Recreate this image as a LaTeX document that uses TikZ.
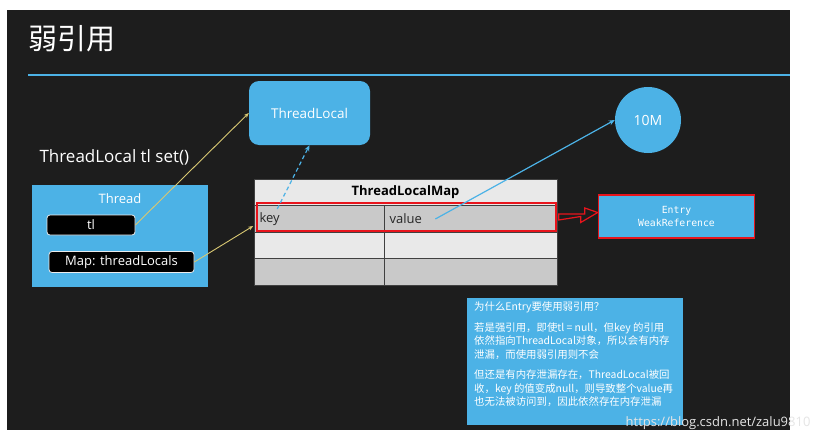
\documentclass[tikz,border=0pt]{standalone}
\usepackage{fontspec}
\setmainfont{Open Sans}
\newfontfamily\cjk{Noto Sans CJK SC}
\newfontfamily\monof{DejaVu Sans Mono}
\usetikzlibrary{arrows.meta,calc}
\definecolor{bg}{HTML}{1D1D1D}
\definecolor{sky}{HTML}{4CB2E6}
\definecolor{rowA}{HTML}{E9E9E9}
\definecolor{rowB}{HTML}{C9C9C9}
\definecolor{yel}{HTML}{D9C872}
\definecolor{redb}{HTML}{E8141C}
\begin{document}
\begin{tikzpicture}[x=1pt,y=-1pt,
  bluebox/.style={fill=sky,draw=none,text=white},
  blackpill/.style={fill=black,draw=white!85!gray,line width=0.8pt,rounded corners=3pt,text=white,font=\fontsize{13}{14}\selectfont},
  cell/.style={draw=black!75,line width=0.6pt},
  yarrow/.style={draw=yel,line width=0.9pt,-{Stealth[length=5pt,width=4pt]}},
  barrow/.style={draw=sky,line width=1.2pt,-{Stealth[length=6pt,width=5pt]}},
  celltext/.style={anchor=west,font=\fontsize{13}{14}\selectfont,text=black!85}]
\useasboundingbox (0,0) rectangle (820,442);
\fill[white] (0,0) rectangle (820,442);
\fill[bg] (7,10) rectangle (790,430);
% title
\node[anchor=west,text=white,font=\cjk\fontsize{29}{30}\selectfont] (title) at (25,39) {弱引用};
\draw[sky,line width=2.5pt] (28,75) -- (790,75);
% ThreadLocal
\node[bluebox,rounded corners=10pt,minimum width=121pt,minimum height=64pt,font=\fontsize{13.5}{14}\selectfont] (tlobj) at (309.5,113) {ThreadLocal};
% 10M circle
\node[bluebox,circle,minimum size=66pt,font=\fontsize{14}{15}\selectfont] (tenm) at (648,120) {10M};
% caption
\node[anchor=west,text=white,font=\fontsize{17}{18}\selectfont] (cap) at (36,157) {ThreadLocal tl set()};
% Thread box
\node[bluebox,minimum width=176pt,minimum height=102pt] (thread) at (120,236) {};
\node[text=white,font=\fontsize{13}{14}\selectfont] (threadlbl) at (120,199) {Thread};
\node[blackpill,minimum width=88pt,minimum height=20pt] (tl) at (91,225) {tl};
\node[blackpill,minimum width=145pt,minimum height=21pt] (map) at (121.5,262) {Map: threadLocals};
% ThreadLocalMap table
\fill[rowA] (254,179) rectangle (557,205);
\fill[rowB] (254,205) rectangle (557,232);
\fill[rowA] (254,232) rectangle (557,258);
\fill[rowB] (254,258) rectangle (557,285);
\draw[cell] (254,179) rectangle (557,285);
\draw[cell] (254,205) -- (557,205);
\draw[cell] (254,232) -- (557,232);
\draw[cell] (254,258) -- (557,258);
\draw[cell] (384,205) -- (384,285);
\node[font=\bfseries\fontsize{13}{14}\selectfont,text=black] (tlmap) at (405.5,192) {ThreadLocalMap};
\node[celltext] (key) at (256,219) {key};
\node[celltext] (value) at (386,219) {value};
\node[draw=redb,line width=1.6pt,minimum width=299pt,minimum height=28pt,inner sep=0pt] (entryrow) at (406.5,217) {};
% Entry box
\node[bluebox,draw=redb,line width=1.6pt,minimum width=156pt,minimum height=43pt,align=center,font=\monof\fontsize{9.8}{13}\selectfont] (entry) at (676.5,216.5) {Entry\\WeakReference};
% red hollow arrow
\draw[redb,line width=1.2pt,fill=bg,line join=miter]
  ($(entryrow.east)+(2,-3)$) -- ++(26,0) -- ++(0,-6) -- ($(entry.west)+(0,-4)$) -- ++(-17,10) -- ++(0,-6) -- ($(entryrow.east)+(2,3)$) -- cycle;
% connectors
\draw[yarrow] (tl.east) -- (tlobj.west);
\draw[yarrow] (map.east) -- ($(entryrow.west)+(-3,9)$);
\draw[barrow,dashed,dash pattern=on 4pt off 3pt] (key.north east) ++(-6,0) -- (tlobj.south);
\draw[barrow] ($(value.east)+(10,0)$) -- (tenm.west);
% note
\node[bluebox,minimum width=216pt,minimum height=127pt] (note) at (575,361.5) {};
\node[anchor=north west,text=white,align=left,inner sep=0pt,font=\cjk\fontsize{10.4}{13.5}\selectfont] (notetext) at (474,302) {为什么Entry要使用弱引用？\\[7pt]若是强引用，即使tl = null，但key 的引用\\依然指向ThreadLocal对象，所以会有内存\\泄漏，而使用弱引用则不会\\[7pt]但还是有内存泄漏存在，ThreadLocal被回\\收，key 的值变成null，则导致整个value再\\也无法被访问到，因此依然存在内存泄漏};
% watermark
\node[anchor=east,text=white!80!gray,font=\fontsize{13}{14}\selectfont] (wm) at (814,423) {https://blog.csdn.net/zalu9810};
\end{tikzpicture}
\end{document}
